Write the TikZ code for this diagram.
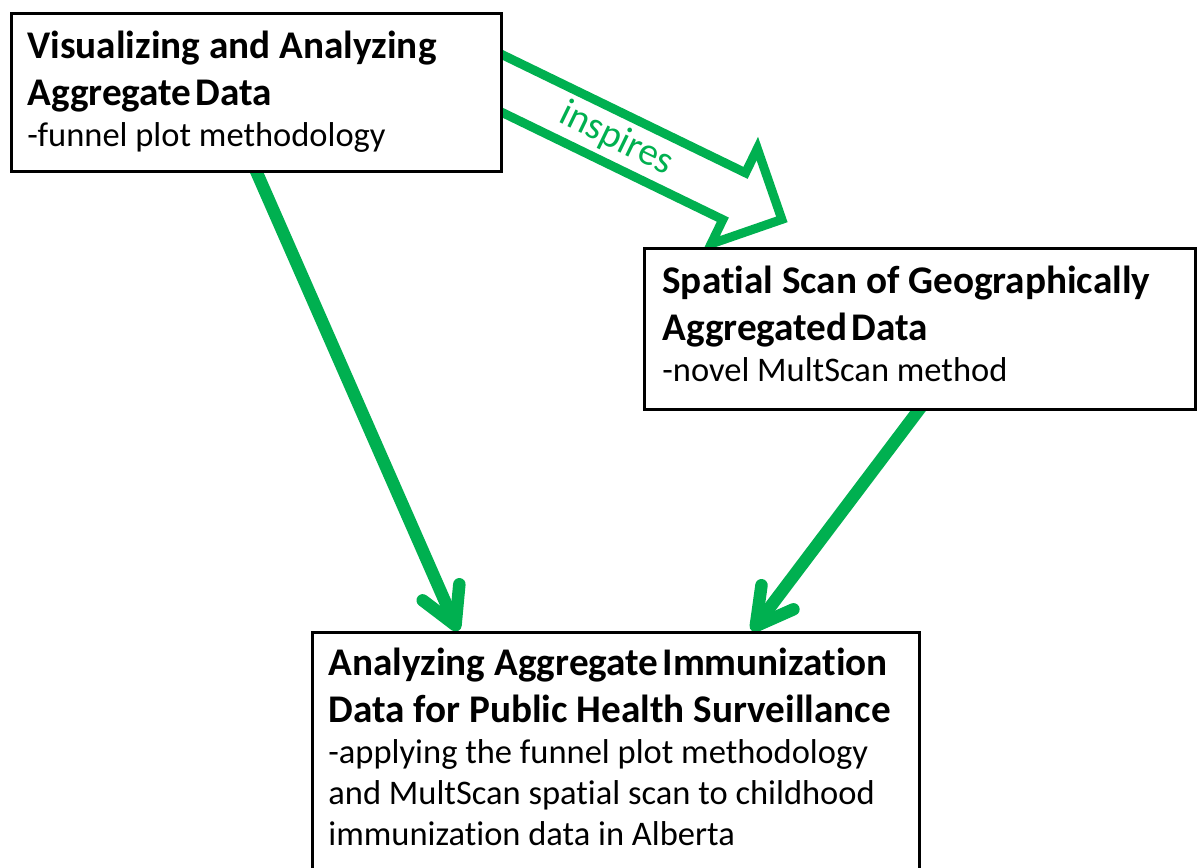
\documentclass[tikz,border=0pt]{standalone}
\usepackage{fontspec}
\setmainfont{Carlito}[Ligatures={NoCommon,NoRequired,NoContextual}]
\usetikzlibrary{arrows.meta,calc}
\pgfdeclarelayer{background}
\pgfsetlayers{background,main}
\definecolor{arrowgreen}{RGB}{0,176,80}
\newcommand{\boxtitle}{\fontsize{19.6pt}{23.5pt}\selectfont\bfseries}
\newcommand{\boxdesc}{\fontsize{17.25pt}{20.5pt}\selectfont\mdseries}
\newcommand{\nolig}{\kern0pt }
\begin{document}
\begin{tikzpicture}[x=0.5pt,y=-0.5pt,
  box/.style={draw=black, line width=1.5pt, fill=white, inner sep=0pt, anchor=north west},
  boxtext/.style={inner sep=0pt, anchor=base west},
  flow/.style={draw=arrowgreen, line width=6.25pt, -{Straight Barb[length=18pt,width=20pt,round]}},
  hollow/.style={draw=arrowgreen, line width=4.5pt, line join=miter, fill=white}]
\useasboundingbox (0,0) rectangle (1197,867);
\clip (0,0) rectangle (1197,867);

% boxes
\node[box, minimum width=245pt, minimum height=79pt] (A) at (10,12) {};
\node[box, minimum width=275.5pt, minimum height=80.5pt] (B) at (643,247) {};
\node[box, minimum width=303.5pt, minimum height=140pt] (C) at (311,631) {};

% texts
\node[boxtext] (At) at ($(A.north west)+(17,46)$) {\begin{minipage}[t]{300pt}\boxtitle Visualizing and Analyzing\par Aggregate\hspace{-0.12em} Data\par\boxdesc -funnel plot methodology\end{minipage}};
\node[boxtext] (Bt) at ($(B.north west)+(19,46)$) {\begin{minipage}[t]{300pt}\boxtitle Spat\nolig ial Scan of Geographically\par Aggregated\hspace{-0.12em} Data\par\boxdesc -novel MultScan method\end{minipage}};
\node[boxtext] (Ct) at ($(C.north west)+(17,44)$) {\begin{minipage}[t]{320pt}\boxtitle Analyzing Aggregate\hspace{-0.12em} Immunizat\nolig ion\par Data for Public Health Surveillance\par\boxdesc -applying the funnel plot methodology\par and MultScan spat\nolig ial scan to childhood\par immunizat\nolig ion data in Alberta\end{minipage}};

% connectors
\coordinate (O) at ($(A.north east)+(0,72)$);
\begin{pgfonlayer}{background}
  \draw[flow] ($(A.south west)+(243,-9)$) -- ($(C.north west)+(147,0)$);
  \draw[flow] ($(B.south west)+(281,-8)$) -- ($(C.north west)+(441,0)$);
  \begin{scope}[shift={(O)}, rotate=-25.9]
    \draw[hollow] (-40,-26) -- (257,-26) -- (257,-53) -- (310,0) -- (257,53) -- (257,26) -- (-40,26) -- cycle;
    \node[text=arrowgreen, rotate=-25.9, font=\fontsize{19.5pt}{23pt}\selectfont, inner sep=0pt] (insp) at (126,0) {inspires};
  \end{scope}
\end{pgfonlayer}
\end{tikzpicture}
\end{document}
